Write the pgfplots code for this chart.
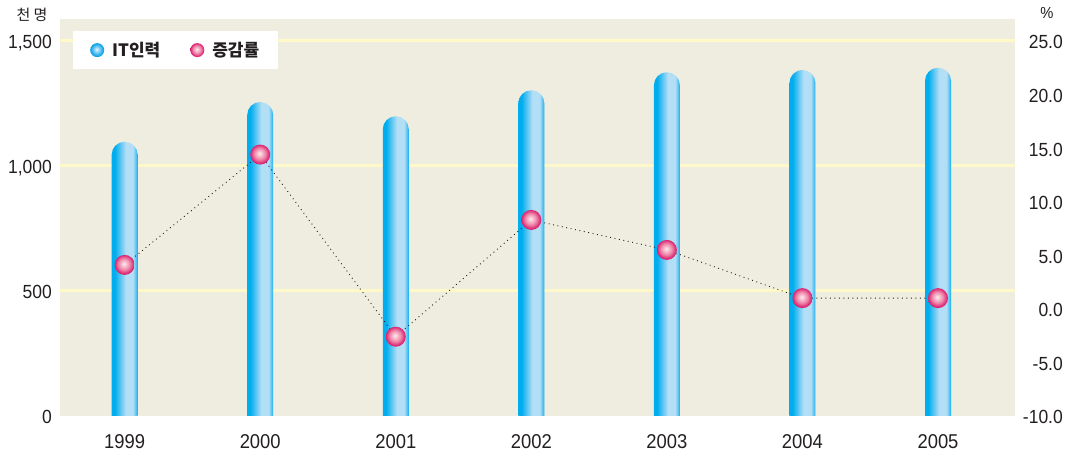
\documentclass[border=0pt]{standalone}
\usepackage{pgfplots}
\usepackage{pgfplotstable}
\pgfplotsset{compat=1.18}
\usepackage{fontspec}
\setmainfont[FakeStretch=0.92]{Liberation Sans}
\newfontfamily\kr{Noto Sans CJK KR}

\definecolor{bgc}{RGB}{239,236,224}
\definecolor{gridc}{RGB}{255,249,200}
\definecolor{barC}{RGB}{0,173,238}
\definecolor{barM}{RGB}{80,192,242}
\definecolor{barL}{RGB}{178,222,246}
\definecolor{txt}{RGB}{35,31,32}
\definecolor{pk0}{RGB}{253,236,240}
\definecolor{pk1}{RGB}{247,192,208}
\definecolor{pk2}{RGB}{238,135,170}
\definecolor{pk3}{RGB}{226,62,128}
\definecolor{pk4}{RGB}{214,28,108}
\definecolor{bl0}{RGB}{235,247,254}
\definecolor{bl1}{RGB}{170,220,247}
\definecolor{bl2}{RGB}{70,185,240}
\definecolor{bl3}{RGB}{0,160,230}

\pgfdeclarehorizontalshading{barshade}{100bp}{color(0bp)=(barC); color(25bp)=(barC); color(31bp)=(barC); color(52bp)=(barL); color(66bp)=(barL); color(72bp)=(barM); color(75bp)=(barC); color(100bp)=(barC)}
\pgfdeclareradialshading{pinkshade}{\pgfpoint{-2bp}{3bp}}{color(0bp)=(pk0); color(6bp)=(pk1); color(14bp)=(pk2); color(21bp)=(pk3); color(25bp)=(pk4); color(50bp)=(pk4)}
\pgfdeclareradialshading{blueshade}{\pgfpoint{-2bp}{3bp}}{color(0bp)=(bl0); color(6bp)=(bl1); color(16bp)=(bl2); color(25bp)=(bl3); color(50bp)=(bl3)}

\pgfdeclareplotmark{roundbar}{%
  \pgfpathmoveto{\pgfpoint{-13pt}{-450pt}}%
  \pgfpathlineto{\pgfpoint{-13pt}{-13pt}}%
  \pgfpatharc{180}{0}{13pt}%
  \pgfpathlineto{\pgfpoint{13pt}{-450pt}}%
  \pgfpathclose
  \pgfshadepath{barshade}{0}%
  \pgfusepath{}%
}
\pgfdeclareplotmark{pinkball}{%
  \pgfpathcircle{\pgfpointorigin}{\pgfplotmarksize}%
  \pgfshadepath{pinkshade}{0}%
  \pgfusepath{}%
}
\pgfdeclareplotmark{blueball}{%
  \pgfpathcircle{\pgfpointorigin}{\pgfplotmarksize}%
  \pgfshadepath{blueshade}{0}%
  \pgfusepath{}%
}

\pgfplotstableread{
x v
0 1097
1 1256
2 1199
3 1303
4 1375
5 1384
6 1393
}\bardata

\pgfplotstableread{
x r
0 4.1
1 14.4
2 -2.6
3 8.3
4 5.5
5 1.0
6 1.0
}\ratedata

\begin{document}
\begin{tikzpicture}
\begin{axis}[
  name=ax, at={(0,0)}, anchor=south west,
  scale only axis, width=955pt, height=397pt,
  xmin=-0.477, xmax=6.568, ymin=0, ymax=1588,
  axis x line*=bottom, axis y line*=left,
  axis line style={draw=none},
  major tick length=0pt,
  axis background/.style={fill=bgc},
  xtick={0,1,2,3,4,5,6},
  xticklabels={1999,2000,2001,2002,2003,2004,2005},
  ytick={0,500,1000,1500},
  yticklabels={0,500,{1,000},{1,500}},
  extra y ticks={500,1000,1500},
  extra y tick labels={},
  extra y tick style={grid=major},
  major grid style={line width=3pt, draw=gridc},
  xticklabel style={font=\fontsize{20}{22}\selectfont, text=txt, anchor=base, inner sep=0pt, yshift=-33pt},
  yticklabel style={font=\fontsize{19}{21}\selectfont, text=txt, anchor=base east, inner sep=0pt, xshift=-8pt, yshift=-8pt},
  clip marker paths=true,
]
\addplot[only marks, mark=roundbar] table[x=x,y=v]{\bardata};
\end{axis}
\begin{axis}[
  at={(0,0)}, anchor=south west,
  scale only axis, width=955pt, height=397pt,
  xmin=-0.477, xmax=6.568, ymin=-10, ymax=27.053,
  axis x line=none, axis y line*=right,
  axis line style={draw=none},
  xtick=\empty,
  major tick length=0pt,
  ytick={-10,-5,0,5,10,15,20,25},
  yticklabels={-10.0,-5.0,0.0,5.0,10.0,15.0,20.0,25.0},
  yticklabel style={font=\fontsize{19}{21}\selectfont, text=txt, anchor=base east, inner sep=0pt, xshift=48pt, yshift=-8pt},
  legend columns=2,
  legend style={at={(0,1)}, anchor=north west, xshift=13pt, yshift=-12pt,
    draw=none, fill=white, inner xsep=17pt, inner ysep=9pt,
    font=\kr\bfseries\fontsize{17}{19}\selectfont, text=txt,
    /tikz/every odd column/.append style={column sep=6pt},
    /tikz/every even column/.append style={column sep=28pt}},
  legend cell align=left,
]
\addlegendimage{only marks, mark=blueball, mark size=7pt}
\addlegendentry{IT인력}
\addlegendimage{only marks, mark=pinkball, mark size=7pt}
\addlegendentry{증감률}
\addplot[forget plot, draw=txt, line width=0.9pt, dash pattern=on 0.9pt off 3.6pt] table[x=x,y=r]{\ratedata};
\addplot[forget plot, only marks, mark=pinkball, mark size=10pt] table[x=x,y=r]{\ratedata};
\end{axis}
\node[font=\kr\fontsize{15}{17}\selectfont, text=txt] at ([shift={(-28pt,4pt)}]ax.north west) {천 명};
\node[font=\fontsize{16}{18}\selectfont, text=txt] at ([shift={(32pt,6pt)}]ax.north east) {\%};
\pgfresetboundingbox
\path[use as bounding box] ([shift={(-60pt,-38pt)}]ax.south west) rectangle ([shift={(59pt,19pt)}]ax.north east);
\end{tikzpicture}
\end{document}
